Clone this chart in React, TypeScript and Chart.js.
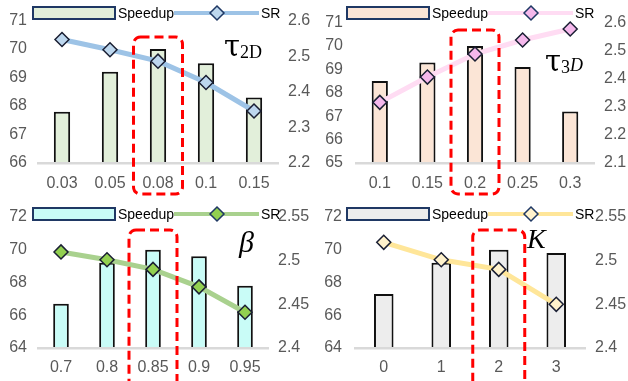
import React, { useEffect, useRef } from 'react';
import { Chart, registerables } from 'chart.js';

Chart.register(...registerables);

// ---------- data ----------
const tau2dLabels = ['0.03', '0.05', '0.08', '0.1', '0.15'];
const tau2dSpeedup = [67.8, 69.2, 70.0, 69.5, 68.3];
const tau2dSR = [2.547, 2.518, 2.486, 2.426, 2.346];
const tau2dSpeedupAxis = [66, 71, 1];
const tau2dSRAxis = [2.2, 2.6, 0.1];

const tau3dLabels = ['0.1', '0.15', '0.2', '0.25', '0.3'];
const tau3dSpeedup = [68.5, 69.3, 70.0, 69.1, 67.2];
const tau3dSR = [2.316, 2.406, 2.488, 2.538, 2.577];
const tau3dSpeedupAxis = [65, 71, 1];
const tau3dSRAxis = [2.1, 2.6, 0.1];

const betaLabels = ['0.7', '0.8', '0.85', '0.9', '0.95'];
const betaSpeedup = [66.7, 69.2, 70.0, 69.6, 67.8];
const betaSR = [2.51, 2.501, 2.49, 2.47, 2.441];
const betaSpeedupAxis = [64, 72, 2];
const betaSRAxis = [2.4, 2.55, 0.05];

const kLabels = ['0', '1', '2', '3'];
const kSpeedup = [67.3, 69.2, 70.0, 69.8];
const kSR = [2.521, 2.501, 2.49, 2.45];
const kSpeedupAxis = [64, 72, 2];
const kSRAxis = [2.4, 2.55, 0.05];

const highlightIndex = [2, 2, 2, 2];

const barLegend = 'Speedup';
const lineLegend = 'SR';

// ---------- helpers ----------
const SANS = "'Liberation Sans', Arial, sans-serif";
const SERIF = "'Liberation Serif', 'DejaVu Serif', serif";
const DSERIF = "'DejaVu Serif', 'Liberation Serif', serif";
const TICK_COLOR = '#595959';

type SymPart = { text: string; font: string; dx?: number; dy?: number };

type PanelCfg = {
  x: number; y: number; w: number; h: number;
  labels: string[]; speedup: number[]; sr: number[];
  yAxis: number[]; y1Axis: number[];
  highlight: number;
  barColor: string; lineColor: string; markerColor: string;
  padTop: number; padBottom: number;
  yWidth: number; y1Width: number; xHeight: number;
  yTickPad: number; y1TickPad: number; xTickPad: number;
  boxW: number; boxTop: number; boxBottom: number;
  legendY: number;
  symX: number; symY: number; sym: SymPart[];
};

function roundRectPath(ctx: CanvasRenderingContext2D, x: number, y: number, w: number, h: number, r: number) {
  ctx.beginPath();
  ctx.moveTo(x + r, y);
  ctx.lineTo(x + w - r, y);
  ctx.arcTo(x + w, y, x + w, y + r, r);
  ctx.lineTo(x + w, y + h - r);
  ctx.arcTo(x + w, y + h, x + w - r, y + h, r);
  ctx.lineTo(x + r, y + h);
  ctx.arcTo(x, y + h, x, y + h - r, r);
  ctx.lineTo(x, y + r);
  ctx.arcTo(x, y, x + r, y, r);
  ctx.closePath();
}

function fmt(v: number) {
  return String(Number(v.toFixed(2)));
}

function Panel({ cfg }: { cfg: PanelCfg }) {
  const ref = useRef<HTMLCanvasElement>(null);
  useEffect(() => {
    const canvas = ref.current!;
    const overlay = {
      id: 'overlay' + cfg.x + '_' + cfg.y,
      afterDraw(chart: any) {
        const ctx: CanvasRenderingContext2D = chart.ctx;
        ctx.save();
        // red dashed highlight box
        const xs = chart.scales.x;
        const cx = xs.getPixelForValue(cfg.highlight);
        ctx.strokeStyle = '#ff0000';
        ctx.lineWidth = 3;
        ctx.setLineDash([9, 5]);
        roundRectPath(ctx, cx - cfg.boxW / 2, cfg.boxTop, cfg.boxW, cfg.boxBottom - cfg.boxTop, 7);
        ctx.stroke();
        ctx.setLineDash([]);

        // legend
        const ly = cfg.legendY;
        ctx.fillStyle = cfg.barColor;
        ctx.fillRect(33, ly - 6, 82, 12);
        ctx.strokeStyle = '#1f3864';
        ctx.lineWidth = 2;
        ctx.strokeRect(33, ly - 6, 82, 12);
        ctx.fillStyle = '#000';
        ctx.font = '14px ' + SANS;
        ctx.textBaseline = 'middle';
        ctx.textAlign = 'left';
        ctx.fillText(barLegend, 118, ly + 1);
        ctx.strokeStyle = cfg.lineColor;
        ctx.lineWidth = 4;
        ctx.beginPath();
        ctx.moveTo(174, ly);
        ctx.lineTo(259, ly);
        ctx.stroke();
        ctx.beginPath();
        ctx.moveTo(217, ly - 7);
        ctx.lineTo(224, ly);
        ctx.lineTo(217, ly + 7);
        ctx.lineTo(210, ly);
        ctx.closePath();
        ctx.fillStyle = cfg.markerColor;
        ctx.fill();
        ctx.strokeStyle = '#1f3864';
        ctx.lineWidth = 1.5;
        ctx.stroke();
        ctx.fillStyle = '#000';
        ctx.fillText(lineLegend, 261, ly + 1);

        // parameter symbol
        ctx.textBaseline = 'alphabetic';
        let sx = cfg.symX;
        for (const p of cfg.sym) {
          ctx.font = p.font;
          ctx.fillText(p.text, sx + (p.dx || 0), cfg.symY + (p.dy || 0));
          sx += ctx.measureText(p.text).width + (p.dx || 0);
        }
        ctx.restore();
      },
    };

    const tickFont = { family: SANS, size: 16 };
    const chart = new Chart(canvas, {
      type: 'bar',
      data: {
        labels: cfg.labels,
        datasets: [
          {
            type: 'line',
            label: lineLegend,
            data: cfg.sr,
            yAxisID: 'y1',
            order: 0,
            borderColor: cfg.lineColor,
            borderWidth: 5,
            pointStyle: 'rectRot',
            pointRadius: 7,
            pointBackgroundColor: cfg.markerColor,
            pointBorderColor: '#1a1f33',
            pointBorderWidth: 1.5,
            tension: 0,
            clip: false,
          } as any,
          {
            type: 'bar',
            label: barLegend,
            data: cfg.speedup,
            yAxisID: 'y',
            order: 1,
            backgroundColor: cfg.barColor,
            borderColor: '#111',
            borderWidth: 2,
            barPercentage: 0.34,
            categoryPercentage: 1,
          } as any,
        ],
      },
      options: {
        animation: false,
        responsive: false,
        layout: { padding: { top: cfg.padTop, bottom: cfg.padBottom, left: 0, right: 0 } },
        plugins: { legend: { display: false }, tooltip: { enabled: false } },
        scales: {
          x: {
            grid: { display: false, drawTicks: false },
            border: { display: true, color: '#d9d9d9', width: 2.5, z: 1 } as any,
            ticks: { color: TICK_COLOR, font: tickFont, padding: cfg.xTickPad, maxRotation: 0 },
            afterFit: (s: any) => { s.height = cfg.xHeight; },
          },
          y: {
            position: 'left',
            min: cfg.yAxis[0],
            max: cfg.yAxis[1],
            grid: { display: false, drawTicks: false },
            border: { display: false },
            ticks: { stepSize: cfg.yAxis[2], color: TICK_COLOR, font: tickFont, padding: cfg.yTickPad },
            afterFit: (s: any) => { s.width = cfg.yWidth; },
          },
          y1: {
            position: 'right',
            min: cfg.y1Axis[0],
            max: cfg.y1Axis[1],
            grid: { display: false, drawTicks: false },
            border: { display: false },
            ticks: {
              stepSize: cfg.y1Axis[2],
              color: TICK_COLOR,
              font: tickFont,
              padding: cfg.y1TickPad,
              callback: (v: any) => fmt(Number(v)),
            },
            afterFit: (s: any) => { s.width = cfg.y1Width; },
          },
        },
      },
      plugins: [overlay],
    });
    return () => chart.destroy();
  }, [cfg]);
  return (
    <canvas
      ref={ref}
      width={cfg.w}
      height={cfg.h}
      style={{ position: 'absolute', left: cfg.x, top: cfg.y, width: cfg.w, height: cfg.h }}
    />
  );
}

const panels: PanelCfg[] = [
  {
    x: 0, y: 0, w: 314, h: 200,
    labels: tau2dLabels, speedup: tau2dSpeedup, sr: tau2dSR,
    yAxis: tau2dSpeedupAxis, y1Axis: tau2dSRAxis, highlight: highlightIndex[0],
    barColor: '#e2efda', lineColor: '#9dc3e6', markerColor: '#bdd7ee',
    padTop: 15, padBottom: 10, yWidth: 38, y1Width: 36, xHeight: 27,
    yTickPad: 11, y1TickPad: 10, xTickPad: 11,
    boxW: 49, boxTop: 37, boxBottom: 194, legendY: 13,
    symX: 224, symY: 56,
    sym: [
      { text: 'τ', font: '29px ' + DSERIF },
      { text: '2D', font: '18px ' + SERIF, dx: 0, dy: 2 },
    ],
  },
  {
    x: 314, y: 0, w: 314, h: 200,
    labels: tau3dLabels, speedup: tau3dSpeedup, sr: tau3dSR,
    yAxis: tau3dSpeedupAxis, y1Axis: tau3dSRAxis, highlight: highlightIndex[1],
    barColor: '#fbe5d6', lineColor: '#ffdcf3', markerColor: '#f5b8ec',
    padTop: 15, padBottom: 10, yWidth: 42, y1Width: 34, xHeight: 27,
    yTickPad: 13, y1TickPad: 10, xTickPad: 11,
    boxW: 48, boxTop: 30, boxBottom: 194, legendY: 13,
    symX: 231, symY: 71,
    sym: [
      { text: 'τ', font: '29px ' + DSERIF },
      { text: '3', font: '18px ' + SERIF, dx: 0, dy: 2 },
      { text: 'D', font: 'italic 18px ' + SERIF, dx: 0, dy: 0 },
    ],
  },
  {
    x: 0, y: 190, w: 314, h: 191,
    labels: betaLabels, speedup: betaSpeedup, sr: betaSR,
    yAxis: betaSpeedupAxis, y1Axis: betaSRAxis, highlight: highlightIndex[2],
    barColor: '#c9fcf7', lineColor: '#a9d18e', markerColor: '#92d050',
    padTop: 27, padBottom: 6, yWidth: 38, y1Width: 46, xHeight: 27,
    yTickPad: 11, y1TickPad: 10, xTickPad: 10,
    boxW: 48, boxTop: 40, boxBottom: 205, legendY: 24,
    symX: 239, symY: 62,
    sym: [{ text: 'β', font: 'italic 30px ' + SERIF }],
  },
  {
    x: 314, y: 190, w: 314, h: 191,
    labels: kLabels, speedup: kSpeedup, sr: kSR,
    yAxis: kSpeedupAxis, y1Axis: kSRAxis, highlight: highlightIndex[3],
    barColor: '#ededed', lineColor: '#ffe699', markerColor: '#fff2cc',
    padTop: 27, padBottom: 6, yWidth: 41, y1Width: 43, xHeight: 27,
    yTickPad: 13, y1TickPad: 10, xTickPad: 10,
    boxW: 52, boxTop: 40, boxBottom: 205, legendY: 24,
    symX: 213, symY: 58,
    sym: [{ text: 'K', font: 'italic 28px ' + SERIF }],
  },
];

export default function App() {
  return (
    <div style={{ position: 'fixed', left: 0, top: 0, width: 628, height: 381, background: '#fff', overflow: 'hidden' }}>
      {panels.map((p, i) => (
        <Panel key={i} cfg={p} />
      ))}
    </div>
  );
}
